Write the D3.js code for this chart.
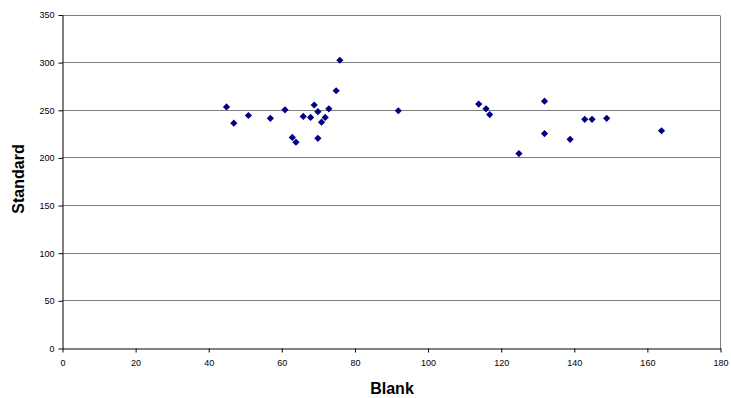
<!DOCTYPE html>
<html>
<head>
<meta charset="utf-8">
<script src="https://cdn.jsdelivr.net/npm/d3@7/dist/d3.min.js"></script>
<style>
  html, body { margin: 0; padding: 0; background: #fff; }
  svg { display: block; font-family: "Liberation Sans", Arial, sans-serif; }
</style>
</head>
<body>
<svg id="chart" width="731" height="398"></svg>
<script>
// Blank vs Standard readings
const blank    = [45, 47, 51, 57, 61, 63, 64, 66, 68, 69, 70, 70, 71, 72, 73, 75, 76, 92, 114, 116, 117, 125, 132, 132, 139, 143, 145, 149, 164];
const standard = [253, 236, 244, 241, 250, 221, 216, 243, 242, 255, 248, 220, 237, 242, 251, 270, 302, 249, 256, 251, 245, 204, 259, 225, 219, 240, 240, 241, 228];
const xTicks = [0, 20, 40, 60, 80, 100, 120, 140, 160, 180];
const yTicks = [0, 50, 100, 150, 200, 250, 300, 350];

const svg = d3.select("#chart");
const plotLeft = 62, plotRight = 720, plotTop = 14.5, plotBottom = 348;

const x = d3.scaleLinear().domain([0, 180]).range([plotLeft, plotRight]);
const y = d3.scaleLinear().domain([0, 350]).range([plotBottom, plotTop]);

// horizontal gridlines
svg.append("g").selectAll("line").data(yTicks.filter(d => d > 0)).join("line")
  .attr("x1", plotLeft).attr("x2", plotRight)
  .attr("y1", d => Math.round(y(d)) + 0.5).attr("y2", d => Math.round(y(d)) + 0.5)
  .attr("stroke", "#808080").attr("stroke-width", 1);

// right frame edge
svg.append("line")
  .attr("x1", plotRight + 0.5).attr("x2", plotRight + 0.5)
  .attr("y1", Math.round(plotTop) + 0.5).attr("y2", plotBottom + 0.5)
  .attr("stroke", "#808080");

// y axis
const yAxis = svg.append("g")
  .attr("transform", `translate(${plotLeft + 0.5},0.5)`)
  .call(d3.axisLeft(y).tickValues(yTicks).tickSize(4).tickSizeOuter(0).tickPadding(4));
yAxis.select(".domain").attr("stroke", "#000");
yAxis.selectAll(".tick line").attr("stroke", "#000");
yAxis.selectAll("text").attr("font-size", 9).attr("fill", "#000")
  .attr("font-family", "'Liberation Sans', Arial, sans-serif");

// x axis
const xAxis = svg.append("g")
  .attr("transform", `translate(0.5,${plotBottom + 0.5})`)
  .call(d3.axisBottom(x).tickValues(xTicks).tickSize(4).tickSizeOuter(0).tickPadding(7));
xAxis.select(".domain").attr("stroke", "#000");
xAxis.selectAll(".tick line").attr("stroke", "#000");
xAxis.selectAll("text").attr("font-size", 9).attr("fill", "#000")
  .attr("font-family", "'Liberation Sans', Arial, sans-serif");

// data points as square diamonds
const r = 3.6;
const diamondPath = `M0,${-r}L${r},0L0,${r}L${-r},0Z`;
svg.append("g").selectAll("path").data(blank.map((b, i) => [b, standard[i]])).join("path")
  .attr("d", diamondPath)
  .attr("transform", d => `translate(${x(d[0])},${y(d[1])})`)
  .attr("fill", "#000080");

// axis titles
svg.append("text")
  .attr("x", 392).attr("y", 394)
  .attr("text-anchor", "middle")
  .attr("font-size", 16).attr("font-weight", "bold")
  .text("Blank");

svg.append("text")
  .attr("transform", `translate(24,179) rotate(-90)`)
  .attr("text-anchor", "middle")
  .attr("font-size", 16).attr("font-weight", "bold")
  .text("Standard");
</script>
</body>
</html>
